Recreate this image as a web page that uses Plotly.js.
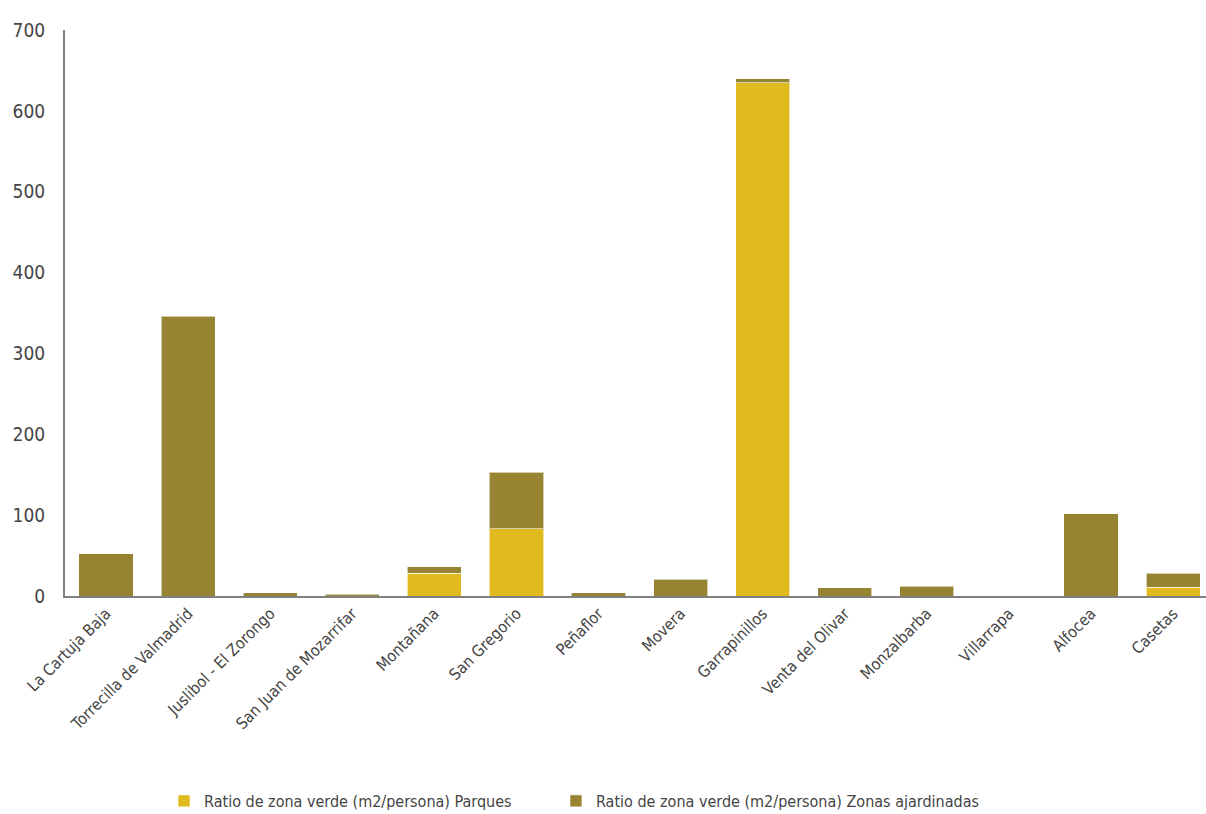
<!DOCTYPE html>
<html>
<head>
<meta charset="utf-8">
<script src="https://cdn.plot.ly/plotly-3.0.1.min.js"></script>
<style>
html,body{margin:0;padding:0;background:#fff;}
#chart{width:1206px;height:814px;}
#chart svg text{font-stretch:condensed !important;}
</style>
</head>
<body>
<div id="chart"></div>
<script>
const categories = ["La Cartuja Baja","Torrecilla de Valmadrid","Juslibol - El Zorongo","San Juan de Mozarrifar","Montañana","San Gregorio","Peñaflor","Movera","Garrapinillos","Venta del Olivar","Monzalbarba","Villarrapa","Alfocea","Casetas"];
const parques = [0,0,0,0,28,83,0,0,635,0,0,0,0,11];
const zonasAjardinadas = [52,346,4,2,8,70,4,21,5,10,12,0,102,17];
const seriesNames = ["Ratio de zona verde (m2/persona) Parques","Ratio de zona verde (m2/persona) Zonas ajardinadas"];
const yTicks = [0,100,200,300,400,500,600,700];

const fontFam = '"DejaVu Sans Condensed", "DejaVu Sans", sans-serif';
const traces = [
  {type:'bar', name:seriesNames[0], x:categories, y:parques, legend:'legend',
   marker:{color:'#E1BA20', line:{color:'rgba(255,255,255,0.6)', width:1}}},
  {type:'bar', name:seriesNames[1], x:categories, y:zonasAjardinadas, legend:'legend2',
   marker:{color:'#978433', line:{color:'rgba(255,255,255,0.6)', width:1}}}
];
const legFont = {size:16, color:'#444', family:fontFam};
const layout = {
  width:1206, height:814,
  barmode:'stack', bargap:0.34,
  margin:{l:65, r:0, t:30, b:218},
  paper_bgcolor:'#fff', plot_bgcolor:'#fff',
  font:{family:fontFam, color:'#444'},
  showlegend:true,
  legend:{orientation:'h', x:0.0868, xanchor:'left', yref:'container', y:0.016, yanchor:'middle', font:legFont},
  legend2:{orientation:'h', x:0.4303, xanchor:'left', yref:'container', y:0.016, yanchor:'middle', font:legFont},
  xaxis:{type:'category', range:[-0.5,13.4], tickangle:-45, showline:true, linecolor:'#808080', linewidth:2,
         automargin:false,
         ticks:'', showgrid:false, zeroline:false, tickfont:{size:16, color:'#444', family:fontFam}},
  yaxis:{range:[0,700], tickvals:yTicks, ticktext:yTicks.map(String), showline:true, linecolor:'#808080', linewidth:2,
         automargin:false,
         ticks:'', showgrid:false, zeroline:false, ticklabelstandoff:14,
         tickfont:{size:19, color:'#444', family:fontFam}}
};
Plotly.newPlot('chart', traces, layout, {displayModeBar:false, staticPlot:true});
</script>
</body>
</html>
